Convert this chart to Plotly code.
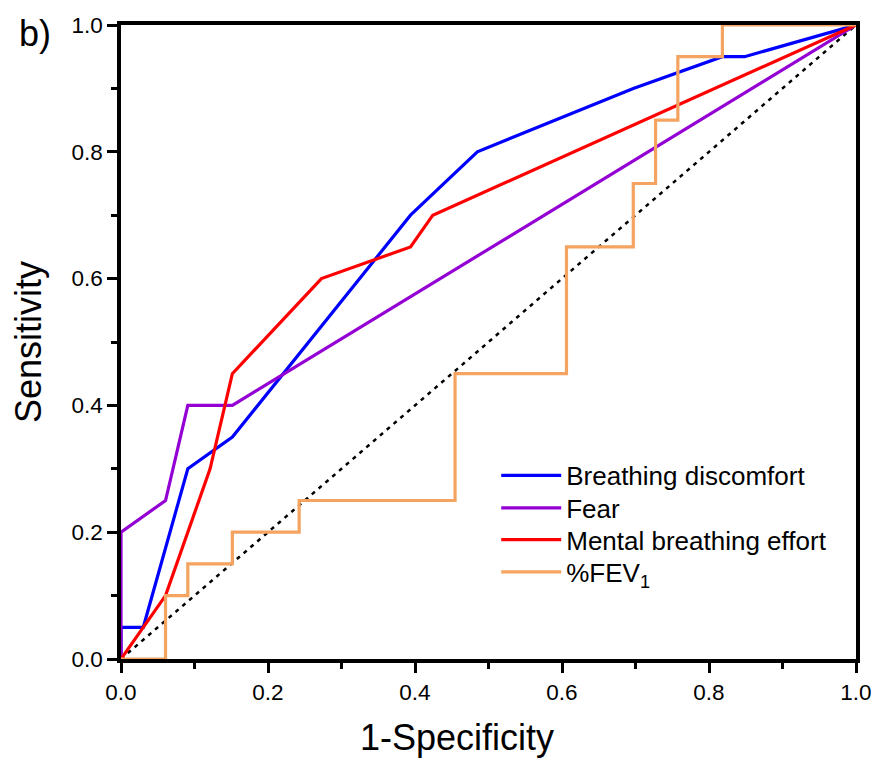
import plotly.graph_objects as go

# Breathing discomfort
bd_x = [0.0, 0.0, 0.0303, 0.0909, 0.1515, 0.3939, 0.4848, 0.6970, 0.8182, 0.8485, 1.0]
bd_y = [0.0, 0.05, 0.05, 0.30, 0.35, 0.70, 0.80, 0.90, 0.95, 0.95, 1.0]

# Fear
fear_x = [0.0, 0.0, 0.0606, 0.0909, 0.1515, 1.0]
fear_y = [0.0, 0.20, 0.25, 0.40, 0.40, 1.0]

# Mental breathing effort
mbe_x = [0.0, 0.0303, 0.0606, 0.1212, 0.1515, 0.2727, 0.3939, 0.4242, 1.0]
mbe_y = [0.0, 0.05, 0.10, 0.30, 0.45, 0.60, 0.65, 0.70, 1.0]

# %FEV1 (step curve)
fev_x = [0.0, 0.0606, 0.0606, 0.0909, 0.0909, 0.1515, 0.1515, 0.2424, 0.2424,
         0.4545, 0.4545, 0.6061, 0.6061, 0.6970, 0.6970, 0.7273, 0.7273,
         0.7576, 0.7576, 0.8182, 0.8182, 1.0]
fev_y = [0.0, 0.0, 0.10, 0.10, 0.15, 0.15, 0.20, 0.20, 0.25,
         0.25, 0.45, 0.45, 0.65, 0.65, 0.75, 0.75, 0.85,
         0.85, 0.95, 0.95, 1.0, 1.0]

ref_x = [0.0, 1.0]
ref_y = [0.0, 1.0]

series_names = ["Breathing discomfort", "Fear", "Mental breathing effort", "%FEV<sub>1</sub>"]
colors = ["#0000FF", "#9400D3", "#FF0000", "#F4A460"]

tick_vals = [0.0, 0.2, 0.4, 0.6, 0.8, 1.0]
tick_text = ["0.0", "0.2", "0.4", "0.6", "0.8", "1.0"]

FONT = "Liberation Sans, Arial, sans-serif"

fig = go.Figure()
fig.add_trace(go.Scatter(x=ref_x, y=ref_y, mode="lines", showlegend=False,
                         line=dict(color="black", width=2.5, dash="4px,5px")))
legend_ids = ["legend", "legend2", "legend3", "legend4"]
for xs, ys, name, col, lg in zip([bd_x, fear_x, mbe_x, fev_x], [bd_y, fear_y, mbe_y, fev_y],
                                 series_names, colors, legend_ids):
    fig.add_trace(go.Scatter(x=xs, y=ys, mode="lines", name=name, legend=lg,
                             line=dict(color=col, width=3.2)))

axis_common = dict(
    range=[0, 1], showgrid=False, zeroline=False, automargin=False,
    showline=True, linecolor="black", linewidth=3.5, mirror=True,
    ticks="outside", ticklen=10, tickwidth=3, tickcolor="black",
    tickvals=tick_vals, ticktext=tick_text,
    tickfont=dict(family=FONT, size=22.5, color="black"),
    minor=dict(dtick=0.1, ticks="outside", ticklen=6, tickwidth=3, tickcolor="black"),
)

fig.update_xaxes(**axis_common)
fig.update_yaxes(**axis_common,
                 title=dict(text="Sensitivity", font=dict(family=FONT, size=36, color="black"),
                            standoff=20))

# x-axis title (offset left of centre as in the reference)
fig.add_annotation(text="1-Specificity", xref="paper", yref="paper", x=0.4577, y=-0.1238,
                   xanchor="center", yanchor="middle", showarrow=False,
                   font=dict(family=FONT, size=36, color="black"))

fig.add_annotation(text="b)", xref="paper", yref="paper", x=-0.142, y=0.986,
                   xanchor="left", yanchor="middle", showarrow=False,
                   font=dict(family=FONT, size=36, color="black"))

legend_y = [0.2896, 0.2382, 0.1882, 0.1372]
legend_common = dict(x=0.5105, xanchor="left", yanchor="middle",
                     bgcolor="rgba(0,0,0,0)", borderwidth=0,
                     font=dict(family=FONT, size=26, color="black"),
                     itemwidth=60)
layout_legends = {lg: dict(y=ly, **legend_common) for lg, ly in zip(legend_ids, legend_y)}

fig.update_layout(
    width=877, height=759,
    margin=dict(l=121, r=21, t=25, b=100),
    paper_bgcolor="white", plot_bgcolor="white",
    font=dict(family=FONT, color="black"),
    **layout_legends,
)

fig.write_html("out.html", config={"displayModeBar": False},
               post_script="document.body.style.margin='0px';")
